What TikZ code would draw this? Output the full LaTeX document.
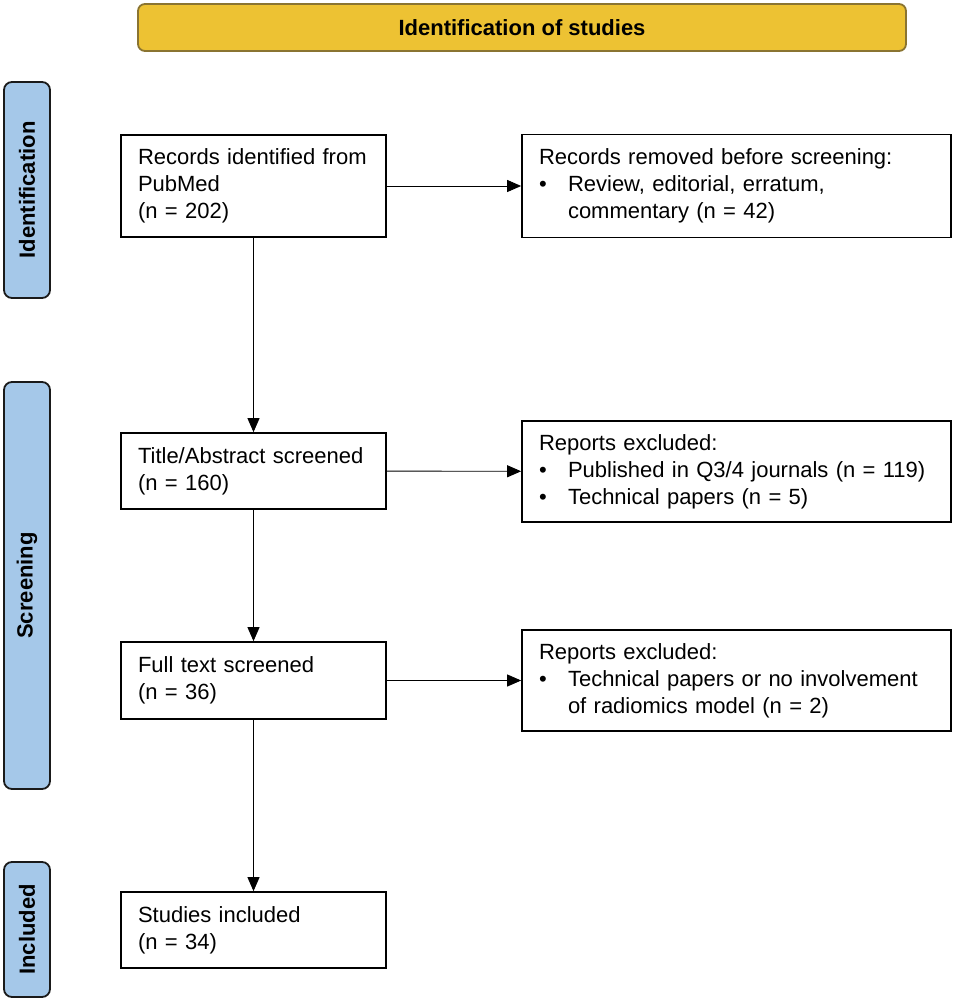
\documentclass[tikz,border=0pt]{standalone}
\usepackage{fontspec}
\setmainfont{Liberation Sans}
\usetikzlibrary{arrows.meta}
\definecolor{bannerfill}{HTML}{EDC233}
\definecolor{bannerdraw}{HTML}{8A7431}
\definecolor{phasefill}{HTML}{A5C8E9}
\definecolor{phasedraw}{HTML}{1A1A1A}
\begin{document}
\begin{tikzpicture}[x=1pt,y=-1pt,
  every node/.style={font=\fontsize{22}{27}\selectfont},
  flowbox/.style={draw=black, line width=1.7pt, fill=white, inner xsep=17pt, inner ysep=0pt, align=left, anchor=center},
  narrowbox/.style={flowbox, text width=231pt, minimum width=265pt},
  widebox/.style={flowbox, text width=395pt, minimum width=429pt},
  phasebar/.style={draw=phasedraw, fill=phasefill, line width=1.8pt, rounded corners=8pt, rotate=90, minimum height=46pt, inner sep=0pt, font=\fontsize{22}{27}\selectfont\bfseries},
  banner/.style={draw=bannerdraw, fill=bannerfill, line width=1.8pt, rounded corners=7pt, minimum width=768pt, minimum height=47pt, inner sep=0pt, font=\fontsize{22}{27}\selectfont\bfseries},
  flowarrow/.style={line width=0.9pt, -{Triangle[length=14pt,width=12pt]}}
]
\useasboundingbox (0,0) rectangle (954,1000);

\node[banner] (title) at (522,27.5) {Identification of studies};

\node[phasebar, minimum width=216pt] (pid) at (27,190) {Identification};
\node[phasebar, minimum width=407pt] (pscr) at (27,585.5) {Screening};
\node[phasebar, minimum width=135pt] (pinc) at (27,929.5) {Included};

\node[narrowbox, minimum height=102pt] (rec) at (253.5,186) {Records identified from\\PubMed\\(n = 202)};
\node[widebox, minimum height=103pt] (rem) at (736.5,186) {Records removed before screening:\\\makebox[29pt][l]{•}Review, editorial, erratum,\\\hspace*{29pt}commentary (n = 42)};

\node[narrowbox, minimum height=76pt] (tas) at (253.5,471) {Title/Abstract screened\\(n = 160)};
\node[widebox, minimum height=101pt] (exc1) at (736.5,471.5) {Reports excluded:\\\makebox[29pt][l]{•}Published in Q3/4 journals (n = 119)\\\makebox[29pt][l]{•}Technical papers (n = 5)};

\node[narrowbox, minimum height=77pt] (fts) at (253.5,680.5) {Full text screened\\(n = 36)};
\node[widebox, minimum height=101pt] (exc2) at (736.5,680.5) {Reports excluded:\\\makebox[29pt][l]{•}Technical papers or no involvement\\\hspace*{29pt}of radiomics model (n = 2)};

\node[narrowbox, minimum height=76pt] (inc) at (253.5,930) {Studies included\\(n = 34)};

\draw[flowarrow] (rec) -- (rem);
\draw[flowarrow] (tas) -- (exc1);
\draw[flowarrow] (fts) -- (exc2);
\draw[flowarrow] (rec) -- (tas);
\draw[flowarrow] (tas) -- (fts);
\draw[flowarrow] (fts) -- (inc);
\end{tikzpicture}
\end{document}
